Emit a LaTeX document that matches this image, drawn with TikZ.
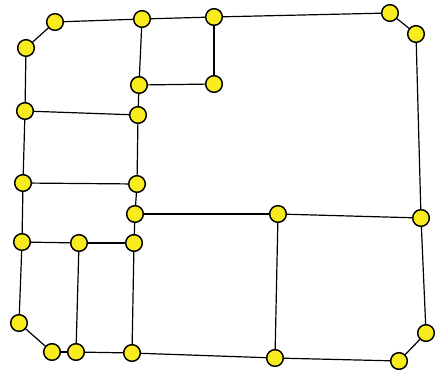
\documentclass[tikz,border=0pt]{standalone}
\begin{document}
\begin{tikzpicture}[x=0.75pt,y=-0.75pt,
  vert/.style={circle,draw=black,line width=1.1pt,fill=nodeyellow,minimum size=12.5pt,inner sep=0pt},
  edge/.style={draw=black,line width=0.9pt}]
\definecolor{nodeyellow}{RGB}{248,236,30}
\useasboundingbox (0,0) rectangle (435,371);
\node[vert] (A) at (55,22) {};
\node[vert] (B) at (26,48) {};
\node[vert] (C) at (142,19) {};
\node[vert] (D) at (214,17) {};
\node[vert] (E) at (139,85) {};
\node[vert] (F) at (214,84) {};
\node[vert] (G) at (25,111) {};
\node[vert] (H) at (138,115) {};
\node[vert] (I) at (23,183) {};
\node[vert] (J) at (137,184) {};
\node[vert] (K) at (390,13) {};
\node[vert] (L) at (416,34) {};
\node[vert] (M) at (135,214) {};
\node[vert] (N) at (22,242) {};
\node[vert] (O) at (79,243) {};
\node[vert] (P) at (134,243) {};
\node[vert] (Q) at (19,323) {};
\node[vert] (R) at (52,352) {};
\node[vert] (S) at (76,352) {};
\node[vert] (T) at (132,353) {};
\node[vert] (U) at (278,214) {};
\node[vert] (V) at (421,218) {};
\node[vert] (W) at (426,333) {};
\node[vert] (X) at (399,361) {};
\node[vert] (Y) at (275,358) {};
\foreach \a/\b in {A/B,A/C,C/D,D/K,K/L,L/V,V/W,W/X,X/Y,Y/T,T/S,S/R,R/Q,Q/N,N/I,I/G,G/B,
  C/E,E/F,F/D,E/H,H/G,H/J,J/I,J/M,M/P,M/U,U/V,U/Y,N/O,O/P,O/S,P/T}
  \draw[edge] (\a) -- (\b);
\end{tikzpicture}
\end{document}
